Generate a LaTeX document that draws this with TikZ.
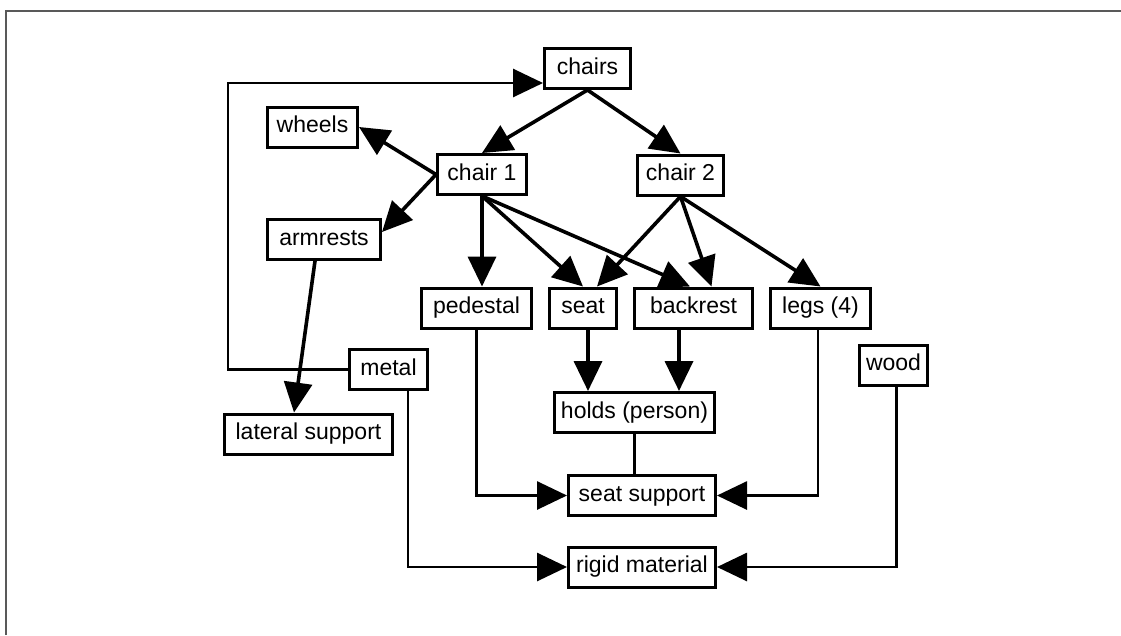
\documentclass[tikz,border=0pt]{standalone}
\usepackage{fontspec}
\setmainfont{Liberation Sans}
\usetikzlibrary{arrows.meta}
\begin{document}
\begin{tikzpicture}[x=1pt,y=-1pt,
  box/.style={draw, line width=3pt, inner sep=0pt, minimum height=40pt,
    text height=16.5pt, text depth=5pt, font=\fontsize{23}{27}\selectfont},
  tip/.style={-{Triangle[length=30pt,width=28pt]}},
  link/.style={line width=3.6pt, tip},
  elbow/.style={line width=2.8pt, tip},
  frameline/.style={draw=black!65, line width=1.3pt}]

\useasboundingbox (0,0) rectangle (1121,635);
\draw[frameline] (6,635) -- (6,11) -- (1121,11);

% concept boxes
\node[box, minimum width=86pt]  (chairs)  at (587.5,68.5) {chairs};
\node[box, minimum width=90pt]  (wheels)  at (312.5,127)  {wheels};
\node[box, minimum width=89pt]  (chair1)  at (482,174.5)  {chair 1};
\node[box, minimum width=86pt]  (chair2)  at (680.5,175)  {chair 2};
\node[box, minimum width=113pt] (armrests) at (324,239.5) {armrests};
\node[box, minimum width=110pt] (pedestal) at (476.5,308) {pedestal};
\node[box, minimum width=67pt]  (seat)    at (583,308)    {seat};
\node[box, minimum width=118pt] (backrest) at (693.5,308) {backrest};
\node[box, minimum width=100pt] (legs)    at (820.5,308)  {legs (4)};
\node[box, minimum width=78pt]  (metal)   at (388.5,369.5) {metal};
\node[box, minimum width=68pt]  (wood)    at (893.5,365)  {wood};
\node[box, minimum width=168pt] (lateral) at (308.5,434)  {lateral support};
\node[box, minimum width=160pt] (holds)   at (634.5,412.5) {holds (person)};
\node[box, minimum width=147pt] (support) at (642,495.5)  {seat support};
\node[box, minimum width=147pt] (rigid)   at (642,567)    {rigid material};

% part-of links
\draw[link] (chairs.south) -- (chair1.north);
\draw[link] (chairs.south) -- (chair2.north);
\draw[link] (chair1.west) -- (wheels.east);
\draw[link] (chair1.west) -- ([yshift=7.5pt]armrests.east);
\draw[link] (chair1.south) -- (chair1.south |- pedestal.north);
\draw[link] (chair1.south) -- (seat.north);
\draw[link] (chair1.south) -- ([xshift=-3.5pt]backrest.north);
\draw[link] (chair2.south) -- ([xshift=14pt]seat.north);
\draw[link] (chair2.south) -- ([xshift=18pt]backrest.north);
\draw[link] (chair2.south) -- (legs.north);
\draw[link] ([xshift=-9pt]armrests.south) -- ([xshift=-14.5pt]lateral.north);
\draw[link] ([xshift=5pt]seat.south) -- ([xshift=5pt]seat.south |- holds.north);
\draw[link] ([xshift=-14.5pt]backrest.south) -- ([xshift=-14.5pt]backrest.south |- holds.north);

% plain link
\draw[line width=2.8pt] (holds.south) -- (holds.south |- support.north);

% elbow links
\coordinate (bend) at (228,83);
\draw[elbow] (metal.west) -| (bend) -- ([yshift=-14.5pt]chairs.west);
\draw[elbow] (pedestal.south) |- (support.west);
\draw[elbow] ([xshift=-2.5pt]legs.south) |- (support.east);
\draw[elbow] ([xshift=19.5pt]metal.south) |- (rigid.west);
\draw[elbow] ([xshift=3pt]wood.south) |- (rigid.east);
\end{tikzpicture}
\end{document}
